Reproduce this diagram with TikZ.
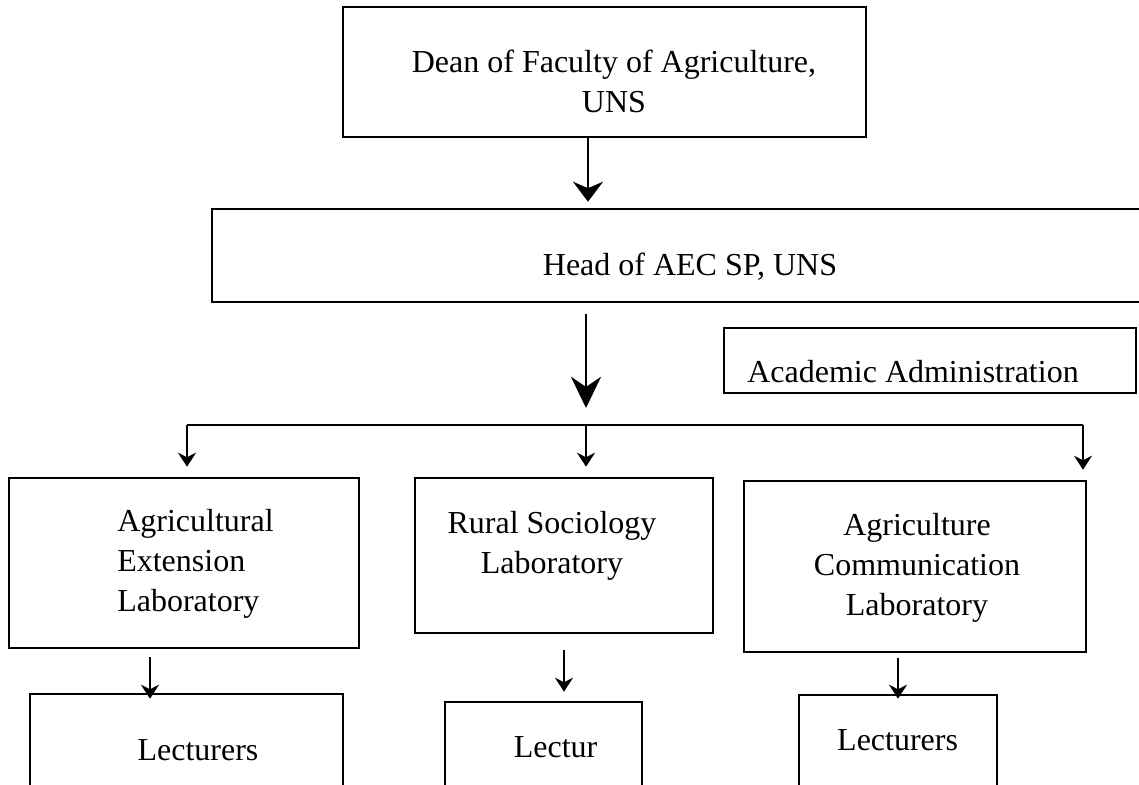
\documentclass[tikz,border=0pt]{standalone}
\usepackage{fontspec}
\setmainfont{Liberation Serif}
\usetikzlibrary{arrows.meta}
\newcommand\orgfont{\fontsize{22.76}{28.45}\selectfont}
\begin{document}
\begin{tikzpicture}[
        box/.style={draw,line width=1.8pt,inner sep=0pt},
        txt/.style={inner sep=0pt,font=\orgfont},
        bigarrow/.style={line width=2.1pt,-{Stealth[length=#1,width=0.75cm]}},
        smallarrow/.style={line width=1.3pt,-{Stealth[length=0.35cm,width=0.45cm]}}]
    \useasboundingbox (0,0) rectangle (28.475,-19.625);
    \clip (0,0) rectangle (28.475,-19.625);
    % boxes
    \node[box,minimum width=13.08cm,minimum height=3.25cm] (dean) at (15.11,-1.8) {};
    \node[box,minimum width=23.9cm,minimum height=2.325cm] (head) at (17.25,-6.3875) {};
    \node[box,minimum width=10.3cm,minimum height=1.625cm] (admin) at (23.25,-9.0125) {};
    \node[box,minimum width=8.75cm,minimum height=4.25cm] (agExt) at (4.6,-14.075) {};
    \node[box,minimum width=7.45cm,minimum height=3.875cm] (rural) at (14.1,-13.8875) {};
    \node[box,minimum width=8.55cm,minimum height=4.275cm] (agCom) at (22.875,-14.1625) {};
    \node[box,minimum width=7.825cm,minimum height=3.15cm] (lect1) at (4.6625,-18.925) {};
    \node[box,minimum width=4.925cm,minimum height=2.95cm] (lect2) at (13.5875,-19.025) {};
    \node[box,minimum width=4.95cm,minimum height=3.125cm] (lect3) at (22.45,-18.9375) {};
    % texts
    \node[txt,align=center] (deanTxt) at (15.35,-2.025) {Dean of Faculty of Agriculture,\\UNS};
    \node[txt,anchor=base] (headTxt) at (17.25,-6.875) {Head of AEC SP, UNS};
    \node[txt,anchor=base west] (adminTxt) at (18.675,-9.55) {Academic Administration};
    \node[txt,align=left,anchor=west] (agExtTxt) at (2.925,-14.1) {Agricultural\\Extension\\Laboratory};
    \node[txt,align=center] (ruralTxt) at (13.8,-13.64) {Rural Sociology\\Laboratory};
    \node[txt,align=center] (agComTxt) at (22.925,-14.19) {Agriculture\\Communication\\Laboratory};
    \node[txt,anchor=base] (lect1Txt) at (4.95,-19.0) {Lecturers};
    \node[txt,anchor=base] (lect2Txt) at (13.89,-18.925) {Lectur};
    \node[txt,anchor=base] (lect3Txt) at (22.44,-18.75) {Lecturers};
    % connectors
    \coordinate (a1) at (14.7,0);
    \coordinate (jl) at (4.675,-10.625);
    \coordinate (jm) at (14.65,-10.625);
    \coordinate (jr) at (27.075,-10.625);
    \coordinate (b1) at (3.75,0);
    \draw[bigarrow=0.5cm,shorten >=0.15cm] (dean.south -| a1) -- (head.north -| a1);
    \draw[bigarrow=0.78cm,shorten <=0.275cm,shorten >=0.425cm] (head.south -| jm) -- (jm);
    \draw[line width=1.9pt] (jl) -- (jr);
    \foreach \j/\b in {jl/agExt,jm/rural,jr/agCom}
        \draw[smallarrow,shorten >=0.25cm] (\j) -- (\j |- \b.north);
    \draw[smallarrow,shorten <=0.2cm,shorten >=-0.15cm] (agExt.south -| b1) -- (lect1.north -| b1);
    \draw[smallarrow,shorten <=0.4cm,shorten >=0.225cm] (rural.south) -- (rural.south |- lect2.north);
    \draw[smallarrow,shorten <=0.125cm,shorten >=-0.125cm] (agCom.south -| lect3.north) -- (lect3.north);
\end{tikzpicture}
\end{document}
